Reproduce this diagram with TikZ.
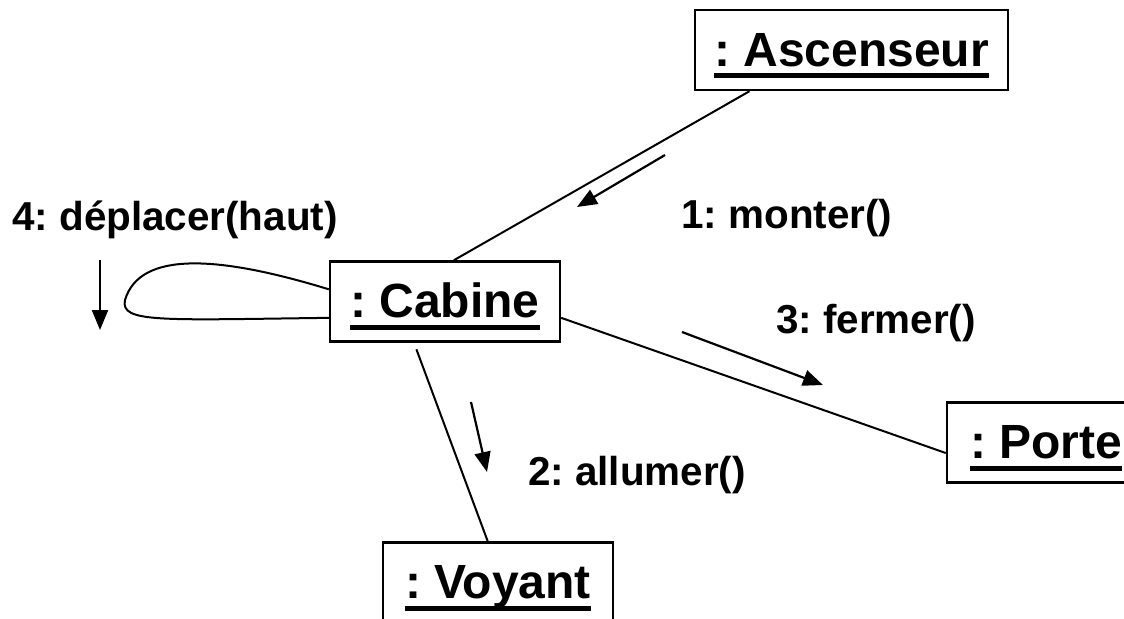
\documentclass[tikz,border=0pt]{standalone}
\usepackage{fontspec}
\setmainfont{Liberation Sans}
\usetikzlibrary{arrows.meta,calc}
\frenchspacing
\newcommand{\objname}[1]{\setbox0=\hbox{#1}\copy0\llap{\rule[-6pt]{\wd0}{2.5pt}}}
\tikzset{
  >={Triangle[length=10pt,width=8pt]},
  every node/.style={font=\fontsize{20.2pt}{24pt}\selectfont\bfseries},
  obj/.style={draw,line width=1.2pt,minimum height=40pt,inner sep=0pt,text height=21pt,text depth=5pt,font=\fontsize{24pt}{28pt}\selectfont\bfseries},
  link/.style={line width=1pt},
  msg/.style={->,line width=1.1pt},
  msglabel/.style={anchor=base,inner sep=0pt},
}

\begin{document}
\begin{tikzpicture}[x=0.5pt,y=-0.5pt]
\useasboundingbox (0,0) rectangle (1124,618);

\node[obj,minimum width=156.5pt] (asc) at (851.5,50) {\objname{: Ascenseur}};
\node[obj,minimum width=115pt] (cab) at (445,301.5) {\objname{: Cabine}};
\node[obj,minimum width=99pt] (porte) at (1046,442.5) {\objname{: Porte}};
\node[obj,minimum width=115pt] (voy) at (498,582.5) {\objname{: Voyant}};

\draw[link] (asc.202.5) -- (cab.78.5);
\draw[link] (cab.-8) -- (porte.186);
\draw[link,shorten <=3.5pt] (cab.233.3) -- (voy.104.2);
\draw[link] (cab.174) .. controls (220,256) and (140,250) .. (125,300)
  .. controls (120,323) and (160,320) .. (cab.188);

% messages
\coordinate (m1a) at (665,155); \coordinate (m1b) at (577,207);
\coordinate (m2a) at (471,402); \coordinate (m2b) at (487,472);
\coordinate (m3a) at (682,332); \coordinate (m3b) at (823,385);
\coordinate (m4a) at (100,260); \coordinate (m4b) at (100,330);
\draw[msg] (m1a) -- (m1b);
\draw[msg] (m2a) -- (m2b);
\draw[msg] (m3a) -- (m3b);
\draw[msg] (m4a) -- (m4b);

\node[msglabel] (l1) at (787,228) {1: monter()};
\node[msglabel] (l2) at (637,485) {2: allumer()};
\node[msglabel] (l3) at (876,333) {3: fermer()};
\node[msglabel] (l4) at (175,230) {4: déplacer(haut)};

\end{tikzpicture}
\end{document}
